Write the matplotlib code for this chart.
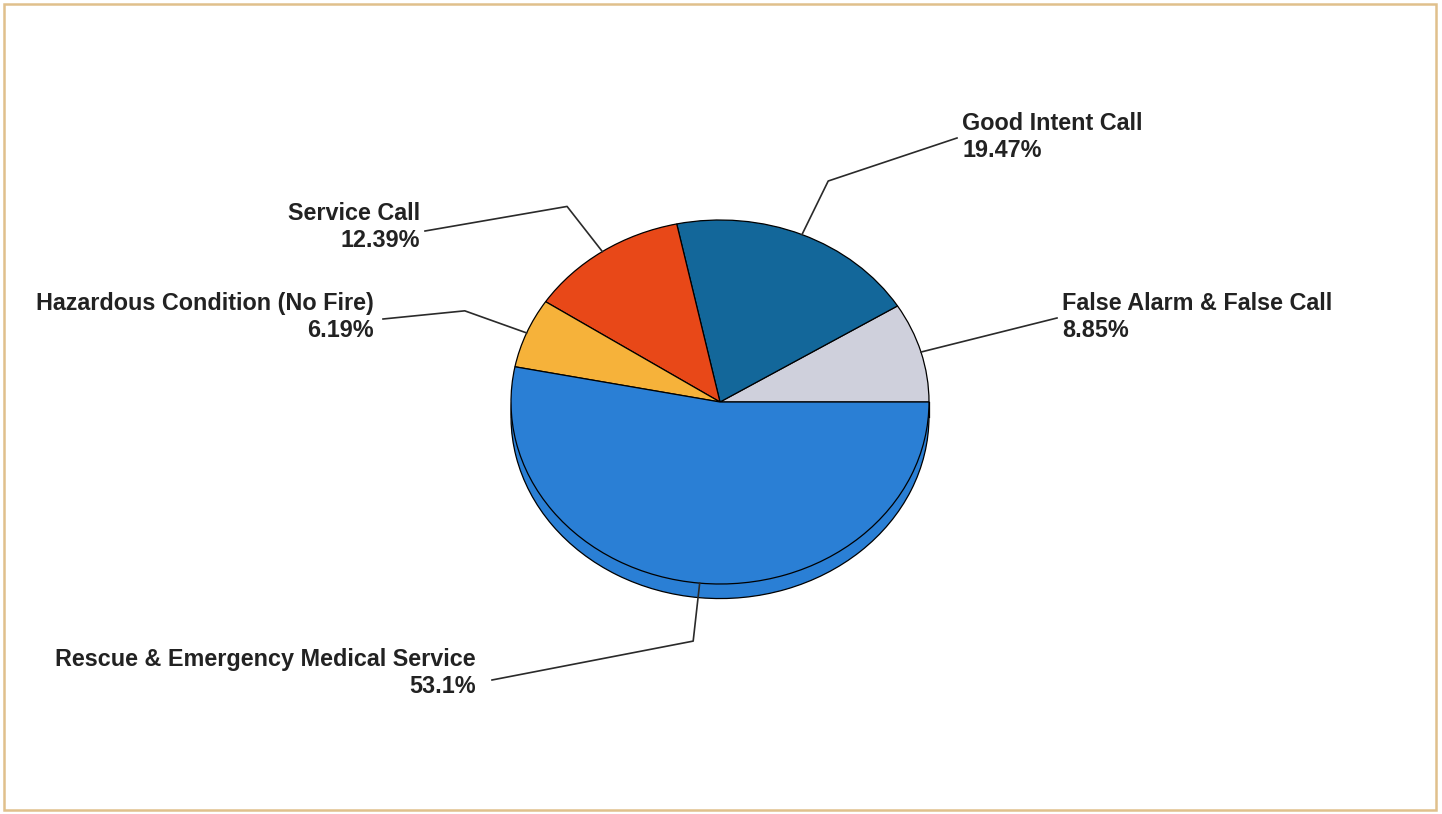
import numpy as np
import matplotlib.pyplot as plt
from matplotlib.patches import Rectangle

# Incident type breakdown (percent of calls)
categories = ['False Alarm & False Call', 'Good Intent Call', 'Service Call',
              'Hazardous Condition (No Fire)', 'Rescue & Emergency Medical Service']
shares = [8.85, 19.47, 12.39, 6.19, 53.1]
share_labels = ['8.85%', '19.47%', '12.39%', '6.19%', '53.1%']
colors = ['#cfd0dc', '#13679a', '#e84818', '#f6b23a', '#2a7fd5']

W, H = 1442, 814
CX, CY = 720, 402      # pie centre (pixels from top-left)
RX, RY = 209, 182      # tilted disc radii in pixels
DEPTH = 0.08           # thickness of the disc, in pie units


def px(x, y):
    # pixel position -> pie units
    return (x - CX) / RX, (CY - y) / RY


fig = plt.figure(figsize=(W / 100, H / 100), dpi=100)
ax = fig.add_axes([0, 0, 1, 1])

edge = dict(edgecolor='black', linewidth=0.9)

# side of the disc: a copy of the pie pushed down, plus a band joining them
side, _ = ax.pie(shares, colors=colors, startangle=0, center=(0, -DEPTH),
                 wedgeprops=edge, frame=True)
for w in side:
    w.set_zorder(1)
ax.add_patch(Rectangle((-1, -DEPTH), 2, DEPTH, facecolor=colors[-1],
                       edgecolor='none', zorder=1.5))
ax.plot([-1, -1], [0, -DEPTH], color='black', lw=0.9, zorder=1.6)
ax.plot([1, 1], [0, -DEPTH], color='black', lw=0.9, zorder=1.6)

# top face
top, _ = ax.pie(shares, colors=colors, startangle=0, center=(0, 0),
                wedgeprops=edge, frame=True)
for w in top:
    w.set_zorder(2)

# label layout: text anchor, alignment, leader end and elbow radius
text_pos = [(1062, 317), (962, 137), (420, 227), (374, 317), (476, 673)]
text_ha = ['left', 'left', 'right', 'right', 'right']
line_end = [(1057, 318), (957, 138), (425, 231), (383, 319), (492, 680)]
elbow_r = [None, 1.32, 1.30, 1.32, 1.32]

cum = np.cumsum([0] + shares[:-1])
for i, cat in enumerate(categories):
    theta = 2 * np.pi * (cum[i] + shares[i] / 2) / 100
    xs = [np.cos(theta)]
    ys = [np.sin(theta)]
    if elbow_r[i] is not None:
        xs.append(elbow_r[i] * np.cos(theta))
        ys.append(elbow_r[i] * np.sin(theta))
    ex, ey = px(*line_end[i])
    xs.append(ex)
    ys.append(ey)
    ax.plot(xs, ys, color='#2a2a2a', lw=1.2, zorder=3)
    tx, ty = px(*text_pos[i])
    ax.text(tx, ty, f'{cat}\n{share_labels[i]}', ha=text_ha[i], va='center',
            multialignment=text_ha[i], fontsize=16.8, fontweight='bold',
            family='Liberation Sans', color='#222222', zorder=4)

x0, _ = px(0, 0)
x1, _ = px(W, 0)
_, y0 = px(0, H)
_, y1 = px(0, 0)
ax.set_xlim(x0, x1)
ax.set_ylim(y0, y1)
ax.set_aspect('auto')
ax.axis('off')

# thin tan frame round the chart
fig.patches.append(Rectangle((4 / W, 4 / H), (1436 - 4) / W, (810 - 4) / H,
                             transform=fig.transFigure, fill=False,
                             edgecolor='#e0c08c', lw=1.8))

fig.savefig('out.png', dpi=100)
